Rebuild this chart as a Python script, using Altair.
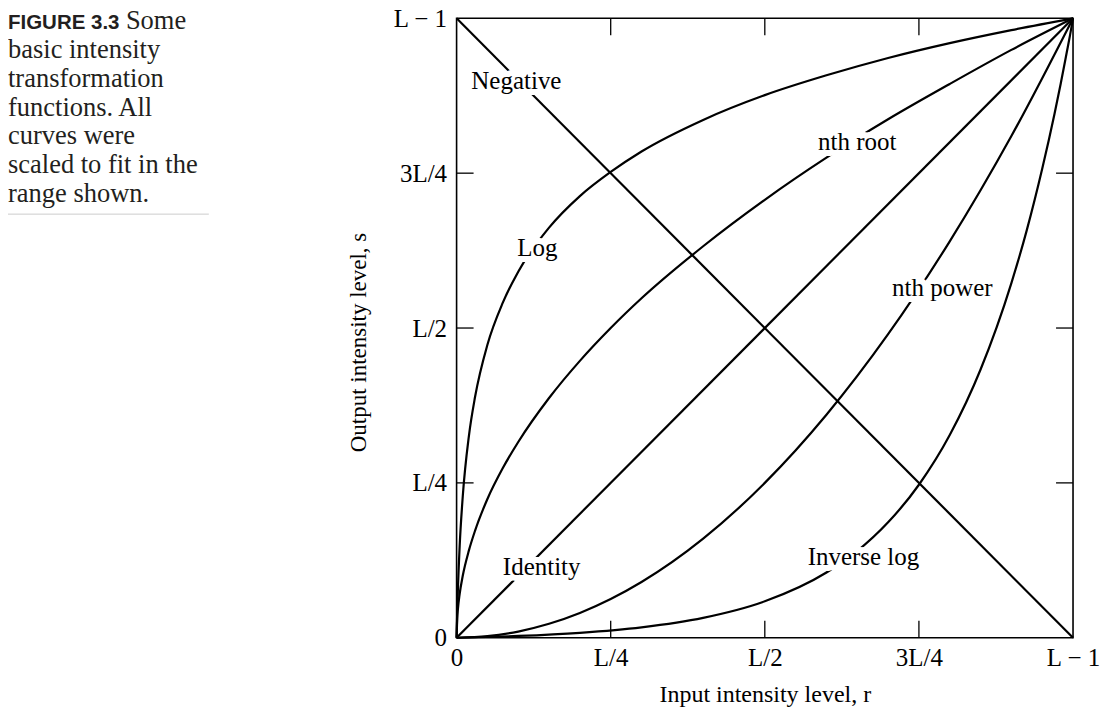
import altair as alt
import pandas as pd

# ---- data (r and s both scaled to 0..1, 1 == L-1) ----
r_log = [0, 0.001, 0.002, 0.005, 0.01, 0.02, 0.03, 0.05, 0.075, 0.1, 0.15, 0.2, 0.25, 0.3, 0.4, 0.5, 0.6, 0.7, 0.8, 0.9, 1.0]
s_log = [0, 0.041, 0.074, 0.148, 0.228, 0.326, 0.389, 0.473, 0.541, 0.591, 0.662, 0.713, 0.752, 0.785, 0.836, 0.876, 0.908, 0.936, 0.960, 0.981, 1.0]

r_root = [0, 0.001, 0.002, 0.005, 0.01, 0.02, 0.03, 0.05, 0.075, 0.1, 0.15, 0.2, 0.25, 0.3, 0.4, 0.5, 0.6, 0.7, 0.8, 0.9, 1.0]
s_root = [0, 0.032, 0.045, 0.071, 0.100, 0.141, 0.173, 0.224, 0.274, 0.316, 0.387, 0.447, 0.500, 0.548, 0.632, 0.707, 0.775, 0.837, 0.894, 0.949, 1.0]

r_power = [0, 0.05, 0.1, 0.15, 0.2, 0.25, 0.3, 0.4, 0.5, 0.6, 0.7, 0.8, 0.9, 1.0]
s_power = [0, 0.0025, 0.010, 0.0225, 0.040, 0.0625, 0.090, 0.160, 0.250, 0.360, 0.490, 0.640, 0.810, 1.0]

r_invlog = [0, 0.1, 0.2, 0.3, 0.4, 0.5, 0.6, 0.65, 0.7, 0.75, 0.8, 0.85, 0.9, 0.925, 0.95, 0.97, 0.98, 0.99, 0.995, 1.0]
s_invlog = [0, 0.0029, 0.0080, 0.0168, 0.0321, 0.0588, 0.1053, 0.140, 0.1863, 0.247, 0.3272, 0.433, 0.5726, 0.658, 0.757, 0.846, 0.8945, 0.946, 0.972, 1.0]

r_identity = [0, 1]
s_identity = [0, 1]

r_negative = [0, 1]
s_negative = [1, 0]

label_names = ["Negative", "Log", "nth root", "nth power", "Identity", "Inverse log"]
label_r = [0.097, 0.131, 0.650, 0.788, 0.138, 0.660]
label_s = [0.898, 0.629, 0.800, 0.565, 0.115, 0.131]

tick_values = [0.25, 0.5, 0.75]
axis_values = [0, 0.25, 0.5, 0.75, 1]
axis_labels = ["0", "L/4", "L/2", "3L/4", "L \u2212 1"]

caption_head = "FIGURE 3.3"
caption_first = "Some"
caption_lines = ["basic intensity", "transformation", "functions. All",
                 "curves were", "scaled to fit in the", "range shown."]

# ---- build tables ----
rows = []
for name, rr, ss in [("Log", r_log, s_log), ("nth root", r_root, s_root),
                     ("nth power", r_power, s_power), ("Inverse log", r_invlog, s_invlog),
                     ("Identity", r_identity, s_identity), ("Negative", r_negative, s_negative)]:
    for i, (a, b) in enumerate(zip(rr, ss)):
        rows.append({"curve": name, "r": a, "s": b, "i": i})
curves = pd.DataFrame(rows)
labels = pd.DataFrame({"name": label_names, "r": label_r, "s": label_s})
ticks = pd.DataFrame({"t": tick_values})

SERIF = "Liberation Serif"
W, H = 617, 620

label_expr = " : ".join(
    [f"datum.value == {v} ? '{l}'" for v, l in zip(axis_values, axis_labels)]
) + " : ''"

xscale = alt.Scale(domain=[0, 1], nice=False, zero=False)
yscale = alt.Scale(domain=[0, 1], nice=False, zero=False)

x_axis = alt.Axis(values=axis_values, labelExpr=label_expr, ticks=False, domain=False, grid=False,
                  labelFont=SERIF, labelFontSize=25, labelColor="black", labelPadding=8,
                  labelFlush=False, labelOverlap=False,
                  title="Input intensity level, r", titleFont=SERIF, titleFontSize=24,
                  titleFontWeight="normal", titleColor="black", titleY=64,
                  titleBaseline="alphabetic")
y_axis = alt.Axis(values=axis_values, labelExpr=label_expr, ticks=False, domain=False, grid=False,
                  labelFont=SERIF, labelFontSize=25, labelColor="black", labelPadding=10,
                  labelFlush=False, labelOverlap=False,
                  title="Output intensity level, s", titleFont=SERIF, titleFontSize=23,
                  titleFontWeight="normal", titleColor="black", titleX=-91, titleY=324,
                  titleAngle=-90, titleBaseline="alphabetic", titleAlign="center")

lines = alt.Chart(curves).mark_line(interpolate="monotone", color="black", strokeWidth=2.2).encode(
    x=alt.X("r:Q", scale=xscale, axis=x_axis),
    y=alt.Y("s:Q", scale=yscale, axis=y_axis),
    detail="curve:N",
    order="i:Q",
)

halo = alt.Chart(labels).mark_text(font=SERIF, fontSize=25, color="white", stroke="white",
                                   strokeWidth=12, strokeJoin="round").encode(
    x=alt.X("r:Q", scale=xscale), y=alt.Y("s:Q", scale=yscale), text="name:N")
text = alt.Chart(labels).mark_text(font=SERIF, fontSize=25, color="black").encode(
    x=alt.X("r:Q", scale=xscale), y=alt.Y("s:Q", scale=yscale), text="name:N")

tick_style = dict(color="black", strokeWidth=1.3)
t_bottom = alt.Chart(ticks).mark_rule(**tick_style).encode(
    x=alt.X("t:Q", scale=xscale), y=alt.value(H), y2=alt.value(H - 17))
t_top = alt.Chart(ticks).mark_rule(**tick_style).encode(
    x=alt.X("t:Q", scale=xscale), y=alt.value(0), y2=alt.value(17))
t_left = alt.Chart(ticks).mark_rule(**tick_style).encode(
    y=alt.Y("t:Q", scale=yscale), x=alt.value(0), x2=alt.value(17))
t_right = alt.Chart(ticks).mark_rule(**tick_style).encode(
    y=alt.Y("t:Q", scale=yscale), x=alt.value(W), x2=alt.value(W - 17))

cap_df = pd.DataFrame({"k": [0]})
cap_head = alt.Chart(cap_df).mark_text(text=caption_head, font="Liberation Sans", fontWeight="bold",
                                       fontSize=20.5, align="left", baseline="alphabetic",
                                       color="#231f20").encode(
    x=alt.value(-449), y=alt.value(11))
cap_first = alt.Chart(cap_df).mark_text(text=caption_first, font=SERIF, fontSize=26.5, align="left",
                                        baseline="alphabetic", color="#231f20").encode(
    x=alt.value(-331), y=alt.value(11))
cap_rest = alt.Chart(cap_df).mark_text(text=caption_lines, font=SERIF, fontSize=26.5, align="left",
                                       baseline="alphabetic", lineHeight=28.7,
                                       color="#231f20").encode(
    x=alt.value(-449), y=alt.value(40))
cap_rule = alt.Chart(cap_df).mark_rule(color="#cccccc", strokeWidth=1).encode(
    x=alt.value(-449), x2=alt.value(-248), y=alt.value(196))

chart = alt.layer(lines, halo, text, t_bottom, t_top, t_left, t_right,
                  cap_head, cap_first, cap_rest, cap_rule).properties(
    width=W, height=H,
    autosize=alt.AutoSizeParams(type="none"),
    padding={"left": 449, "top": 10, "right": 30, "bottom": 70},
    background="white",
).configure_view(stroke="black", strokeWidth=1.6)

chart.save("out.html", embed_options={"renderer": "svg", "actions": False})
